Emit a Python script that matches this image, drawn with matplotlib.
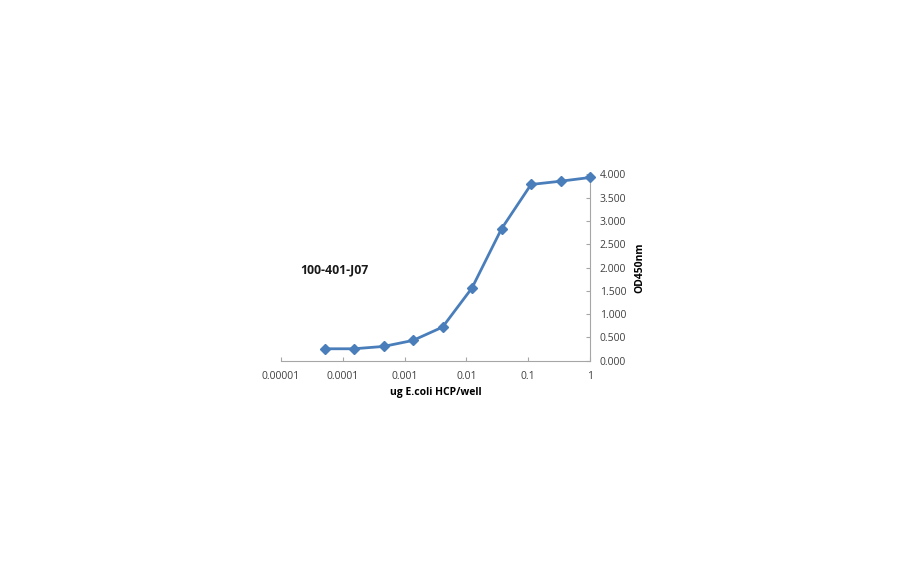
import matplotlib
matplotlib.use("Agg")
import matplotlib.pyplot as plt
from matplotlib.ticker import FixedLocator, FixedFormatter

# 3-fold dilution series, ug E.coli HCP per well
conc = [0.0000508, 0.000152, 0.000457, 0.00137, 0.00412, 0.0123, 0.037, 0.111, 0.333, 1.0]
od450 = [0.258, 0.258, 0.308, 0.437, 0.723, 1.56, 2.83, 3.78, 3.85, 3.93]

xticks = [0.00001, 0.0001, 0.001, 0.01, 0.1, 1]
xlabels = ["0.00001", "0.0001", "0.001", "0.01", "0.1", "1"]
yticks = [0, 0.5, 1, 1.5, 2, 2.5, 3, 3.5, 4]

plt.rcParams['font.family'] = ['Open Sans', 'DejaVu Sans']

fig = plt.figure(figsize=(9.12, 5.62), dpi=100)
ax = fig.add_axes([0.308, 0.358, 0.339, 0.332])

ax.plot(conc, od450, color='#4a7ebb', lw=2, marker='D', ms=5.5,
        mfc='#4a7ebb', mec='#4a7ebb', clip_on=False, zorder=3)

ax.set_xscale('log')
ax.set_xlim(0.00001, 1)
ax.set_ylim(0, 4)
ax.xaxis.set_major_locator(FixedLocator(xticks))
ax.xaxis.set_major_formatter(FixedFormatter(xlabels))
ax.xaxis.set_minor_locator(FixedLocator([]))
ax.set_yticks(yticks)
ax.set_yticklabels(["%.3f" % v for v in yticks])

ax.yaxis.tick_right()
ax.yaxis.set_label_position('right')
for s in ['top', 'left']:
    ax.spines[s].set_visible(False)
for s in ['bottom', 'right']:
    ax.spines[s].set_color('#a6a6a6')
ax.tick_params(axis='both', colors='#a6a6a6', labelcolor='#404040',
               labelsize=7.5, length=3, width=0.8)
ax.tick_params(axis='y', direction='in', pad=7)
ax.tick_params(axis='x', direction='in', pad=7)

ax.set_xlabel('ug E.coli HCP/well', fontsize=7.5, fontweight='bold', labelpad=4)
ax.set_ylabel('OD450nm', fontsize=7.5, fontweight='bold', labelpad=6)

ax.text(0.0000203, 1.94, '100-401-J07', fontsize=8.8, fontweight='bold',
        color='#1a1a1a', va='center')

fig.savefig('out.png', dpi=100)
